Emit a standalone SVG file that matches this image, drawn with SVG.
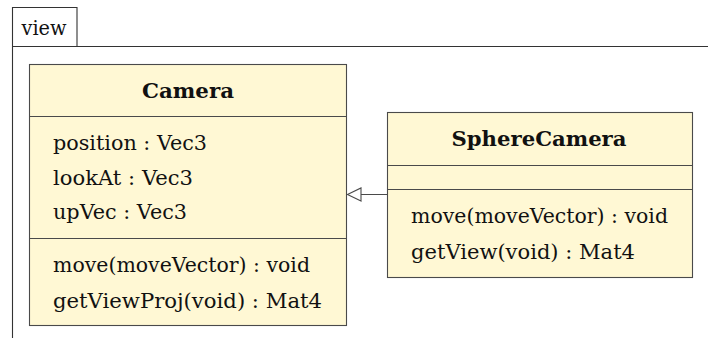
<svg xmlns="http://www.w3.org/2000/svg" width="708" height="338" viewBox="0 0 708 338">
<style>
.box{fill:#fff8d4;stroke:#4a4a4a;stroke-width:1.1}
.div{stroke:#4a4a4a;stroke-width:1.1}
.frame{fill:none;stroke:#333;stroke-width:1.1}
text{font-family:"DejaVu Serif","Liberation Serif",serif;font-size:20px;fill:#111}
.title{font-weight:bold;text-anchor:middle}
.conn{stroke:#4a4a4a;stroke-width:1.1;fill:none}
</style>
<defs>
<marker id="gen" markerWidth="16" markerHeight="16" refX="14" refY="7" orient="auto" markerUnits="userSpaceOnUse">
<path d="M0.5,0.5 L14,7 L0.5,13.5 Z" fill="#fff" stroke="#4a4a4a" stroke-width="1.1"/>
</marker>
</defs>
<g id="package-view">
<path class="frame" d="M12.5,338 V7.5 H77 V46.5"/>
<path class="frame" d="M12.5,46.5 H708"/>
<text x="21.5" y="35" textLength="45" lengthAdjust="spacingAndGlyphs">view</text>
</g>
<g id="Camera">
<rect class="box" x="29.5" y="64.5" width="317" height="261"/>
<line class="div" x1="29.5" y1="116.5" x2="346.5" y2="116.5"/>
<line class="div" x1="29.5" y1="238.5" x2="346.5" y2="238.5"/>
<text class="title" x="188" y="98" textLength="92" lengthAdjust="spacingAndGlyphs">Camera</text>
<text x="53" y="150" textLength="154" lengthAdjust="spacingAndGlyphs">position : Vec3</text>
<text x="53" y="185" textLength="140" lengthAdjust="spacingAndGlyphs">lookAt : Vec3</text>
<text x="53" y="219" textLength="134" lengthAdjust="spacingAndGlyphs">upVec : Vec3</text>
<text x="53" y="272" textLength="257" lengthAdjust="spacingAndGlyphs">move(moveVector) : void</text>
<text x="53" y="308" textLength="269" lengthAdjust="spacingAndGlyphs">getViewProj(void) : Mat4</text>
</g>
<g id="SphereCamera">
<rect class="box" x="387.5" y="112.5" width="305" height="165"/>
<line class="div" x1="387.5" y1="165.5" x2="692.5" y2="165.5"/>
<line class="div" x1="387.5" y1="189.5" x2="692.5" y2="189.5"/>
<text class="title" x="539" y="146" textLength="175" lengthAdjust="spacingAndGlyphs">SphereCamera</text>
<text x="411" y="223" textLength="257" lengthAdjust="spacingAndGlyphs">move(moveVector) : void</text>
<text x="411" y="259" textLength="224" lengthAdjust="spacingAndGlyphs">getView(void) : Mat4</text>
</g>
<g id="connectors">
<line class="conn" x1="387.5" y1="194.5" x2="347.5" y2="194.5" marker-end="url(#gen)"/>
</g>
</svg>
